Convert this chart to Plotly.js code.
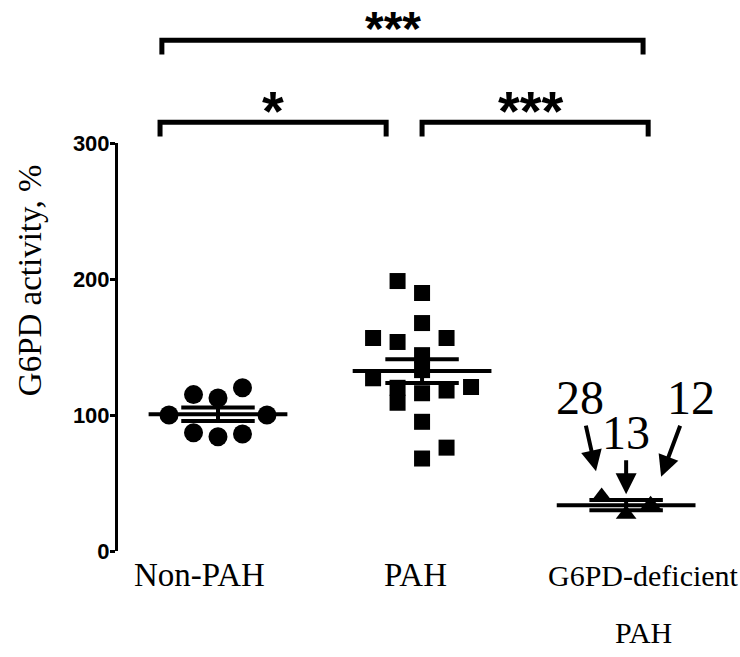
<!DOCTYPE html>
<html>
<head>
<meta charset="utf-8">
<script src="https://cdn.plot.ly/plotly-3.0.1.min.js"></script>
<style>
  html, body { margin: 0; padding: 0; background: #fff; }
  #chart { width: 740px; height: 657px; }
</style>
</head>
<body>
<div id="chart"></div>
<script>
// groups along the x axis
const groups = ['Non-PAH', 'PAH', 'G6PD-deficient<br>PAH'];

// G6PD activity, %
const nonPah = [115, 112.5, 120, 100, 100, 87, 84, 86];
const pah = [198.5, 189.7, 167.6, 156.6, 153.7, 156.6, 144, 133, 127, 120, 109, 116, 118, 120.6, 95, 76, 68];
const deficient = [40, 27, 34];

// column slot of each point in the scatter spread
const nonPahSlot = [-1, 0, 1, -2, 2, -1, 0, 1];
const pahSlot = [-1, 0, 0, -2, -1, 1, 0, 0, -2, -1, -1, 0, 1, 2, 0, 1, 0];
const deficientSlot = [-1, 0, 1];

// patient numbers pointed at in the deficient group
const patientIds = ['28', '13', '12'];

// significance brackets: [from group, to group, label]
const comparisons = [[0, 2, '***'], [0, 1, '*'], [1, 2, '***']];

const yTicks = [0, 100, 200, 300];

// ---- helpers
const xr = [-0.49, 2.46];
const slotWidth = 0.12;
const toPaperX = x => (x - xr[0]) / (xr[1] - xr[0]);
const serif = 'Liberation Serif, Times New Roman, serif';
const sans = 'Liberation Sans, Arial, sans-serif';

function mean(a) { return a.reduce((s, v) => s + v, 0) / a.length; }
function sem(a) {
    const m = mean(a);
    const sd = Math.sqrt(a.reduce((s, v) => s + (v - m) * (v - m), 0) / (a.length - 1));
    return sd / Math.sqrt(a.length);
}

const series = [
    { vals: nonPah, slot: nonPahSlot, symbol: 'circle', size: 19 },
    { vals: pah, slot: pahSlot, symbol: 'square', size: 16 },
    { vals: deficient, slot: deficientSlot, symbol: 'triangle-up', size: 18 }
];

const traces = series.map((s, i) => ({
    type: 'scatter',
    mode: 'markers',
    x: s.slot.map(k => i + k * slotWidth),
    y: s.vals,
    cliponaxis: false,
    hoverinfo: 'y',
    marker: { symbol: s.symbol, size: s.size, color: '#000', line: { width: 0 } },
    showlegend: false
}));

// mean line + SEM whiskers for each group
const shapes = [];
series.forEach((s, i) => {
    const m = mean(s.vals), e = sem(s.vals);
    const ln = { color: '#000', width: 4 };
    shapes.push({ type: 'line', xref: 'x', yref: 'y', x0: i - 0.34, x1: i + 0.34, y0: m, y1: m, line: ln });
    shapes.push({ type: 'line', xref: 'x', yref: 'y', x0: i - 0.18, x1: i + 0.18, y0: m + e, y1: m + e, line: ln });
    shapes.push({ type: 'line', xref: 'x', yref: 'y', x0: i - 0.18, x1: i + 0.18, y0: m - e, y1: m - e, line: ln });
    shapes.push({ type: 'line', xref: 'x', yref: 'y', x0: i, x1: i, y0: m - e, y1: m + e, line: ln });
});

// brackets above the plot
const bracketEnds = { '0-2': [-0.275, 2.083, 1.252], '0-1': [-0.284, 0.824, 1.051], '1-2': [1.0, 2.108, 1.051] };
const starShift = { '0-2': -9, '0-1': 0, '1-2': -4 };
const annotations = [];
comparisons.forEach(([a, b, label]) => {
    const key = a + '-' + b;
    const [x0, x1, yt] = bracketEnds[key];
    const p0 = toPaperX(x0), p1 = toPaperX(x1), yb = yt - 0.035;
    shapes.push({
        type: 'path', xref: 'paper', yref: 'paper',
        path: `M ${p0},${yb} L ${p0},${yt} L ${p1},${yt} L ${p1},${yb}`,
        line: { color: '#000', width: 5 }
    });
    // star text sits just above its bracket, kept inside the page
    const top = key === '0-2';
    annotations.push({
        xref: 'paper', yref: 'paper', x: (p0 + p1) / 2, xshift: starShift[key],
        y: top ? 1.3505 : yt + 0.029, yanchor: top ? 'top' : 'middle',
        xanchor: 'center', showarrow: false, text: label,
        font: { family: sans, size: top ? 48 : 56, color: '#000', weight: 'bold' }
    });
});

// patient labels with arrows
const arrowOffsets = [[-22, -99, 26], [0, -82, 20], [40, -107, 30]];
patientIds.forEach((id, k) => {
    const [ax, ay, so] = arrowOffsets[k];
    annotations.push({
        xref: 'x', yref: 'y', x: 2 + deficientSlot[k] * slotWidth, y: deficient[k],
        ax: ax, ay: ay, text: id, showarrow: true,
        arrowhead: 2, arrowsize: 1.05, arrowwidth: 4, arrowcolor: '#000', standoff: so,
        font: { family: serif, size: 48, color: '#000' }
    });
});

// category labels, one annotation per line
const labelShift = [-18, -7, 17];
const labelSize = [33, 33, 30];
groups.forEach((g, i) => {
    g.split('<br>').forEach((line, j) => {
        annotations.push({
            xref: 'x', yref: 'paper', x: i, y: -0.059 - j * 0.14, xshift: labelShift[i],
            xanchor: 'center', yanchor: 'middle', showarrow: false, text: line,
            font: { family: serif, size: labelSize[i], color: '#000' }
        });
    });
});

// y title
annotations.push({
    xref: 'paper', yref: 'paper', x: -0.146, y: 0.664, textangle: -90,
    xanchor: 'center', yanchor: 'middle',
    text: 'G6PD activity, %', showarrow: false,
    font: { family: serif, size: 33, color: '#000' }
});

const layout = {
    width: 740,
    height: 657,
    margin: { l: 118, r: 20, t: 143, b: 106 },
    paper_bgcolor: '#fff',
    plot_bgcolor: '#fff',
    showlegend: false,
    xaxis: {
        range: xr,
        showticklabels: false,
        ticks: '',
        showline: false, showgrid: false, zeroline: false
    },
    yaxis: {
        range: [0, 300],
        tickvals: yTicks,
        ticks: 'outside', ticklen: 5, tickwidth: 3, tickcolor: '#000',
        ticklabelstandoff: -4,
        showline: true, linewidth: 3, linecolor: '#000',
        showgrid: false, zeroline: false,
        tickfont: { family: sans, size: 22, color: '#000', weight: 'bold' }
    },
    shapes: shapes,
    annotations: annotations
};

Plotly.newPlot('chart', traces, layout, { displayModeBar: false, staticPlot: true });
</script>
</body>
</html>
